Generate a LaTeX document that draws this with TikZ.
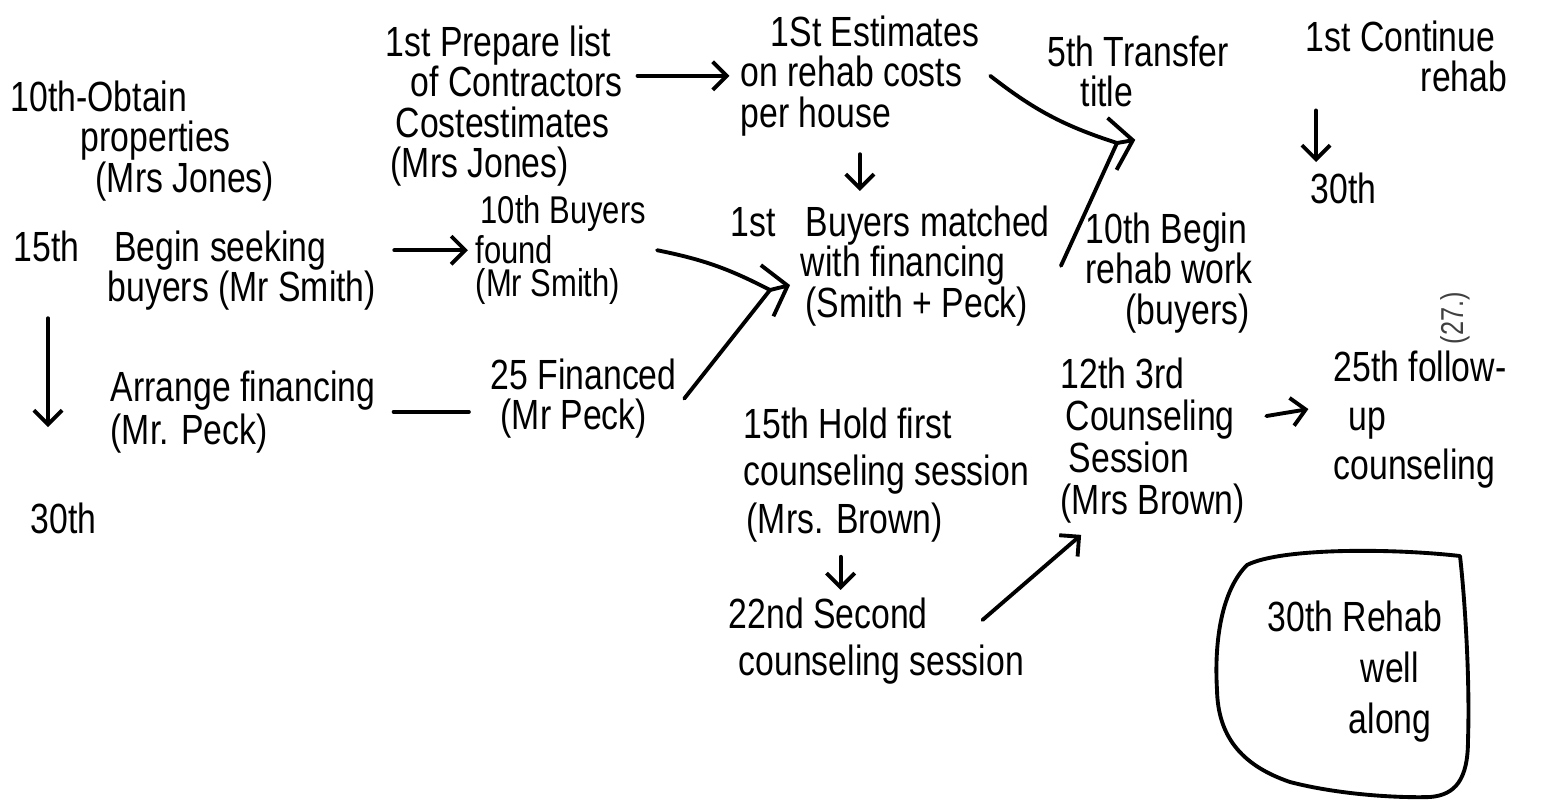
\documentclass[tikz,border=0pt]{standalone}
\usepackage{fontspec}
\setmainfont{Liberation Sans}[FakeStretch=0.8]
\usetikzlibrary{arrows.meta,calc}
\tikzset{
  lbl/.style={anchor=north west, align=left, inner sep=0pt, font=\fontsize{12}{11.5}\selectfont},
  ln/.style={line width=1.1pt, line cap=round, line join=round},
  arr/.style={ln, -{Straight Barb[length=4pt,width=8pt]}},
  mtip/.style={ln, -{Straight Barb[length=6pt,width=15pt]}},
}
\begin{document}
\begin{tikzpicture}[x=0.01cm, y=-0.01cm]
\useasboundingbox (0,0) rectangle (1557,802);
\fill[white] (0,0) rectangle (1557,802);

% texts
\node[lbl] (obtain) at (10,80) {10th-Obtain\\\hspace*{0.7cm}properties\\\hspace*{0.85cm}(Mrs Jones)};
\node[lbl] (prep) at (385,25) {1st Prepare list\\\hspace*{0.25cm}of Contractors\\\hspace*{0.1cm}Costestimates\\\hspace*{0.05cm}(Mrs Jones)};
\node[lbl] (est) at (740,15) {\hspace*{0.3cm}1St Estimates\\on rehab costs\\per house};
\node[lbl] (transfer) at (1047,35) {5th Transfer\\\hspace*{0.33cm}title};
\node[lbl] (cont) at (1305,20) {1st Continue\\\hspace*{1.15cm}rehab};
\node[lbl] (c30) at (1310,172) {30th};
\node[lbl] (seek) at (13,230) {15th\hspace{0.35cm}Begin seeking\\\hspace*{0.94cm}buyers (Mr Smith)};
\node[lbl, font=\fontsize{11}{9.5}\selectfont] (found) at (475,195) {\hspace*{0.05cm}10th Buyers\\found\\(Mr Smith)};
\node[lbl] (f30) at (30,502) {30th};
\node[lbl, font=\fontsize{12}{10.5}\selectfont] (arr) at (110,370) {Arrange financing\\(Mr. Peck)};
\node[lbl] (fin) at (490,358) {25 Financed\\\hspace*{0.1cm}(Mr Peck)};
\node[lbl] (match) at (730,205) {1st\hspace{0.3cm}Buyers matched\\\hspace*{0.7cm}with financing\\\hspace*{0.75cm}(Smith + Peck)};
\node[lbl] (rehab) at (1085,212) {10th Begin\\rehab work\\\hspace*{0.4cm}(buyers)};
\node[lbl, font=\fontsize{12}{13.5}\selectfont] (hold) at (743,407) {15th Hold first\\counseling session\\\hspace*{0.03cm}(Mrs. Brown)};
\node[lbl, font=\fontsize{12}{13.5}\selectfont] (second) at (728,597) {22nd Second\\\hspace*{0.1cm}counseling session};
\node[lbl, font=\fontsize{12}{12}\selectfont] (third) at (1060,357) {12th 3rd\\\hspace*{0.05cm}Counseling\\\hspace*{0.08cm}Session\\(Mrs Brown)};
\node[lbl, font=\fontsize{12}{14}\selectfont] (follow) at (1333,350) {25th follow-\\\hspace*{0.15cm}up\\counseling};
\node[lbl, font=\fontsize{12}{14.5}\selectfont] (along) at (1267,600) {30th Rehab\\\hspace*{0.93cm}well\\\hspace*{0.81cm}along};
\node[rotate=90, inner sep=0pt, font=\fontsize{9}{9}\selectfont, text=black!75] (pg) at (1455,318) {(27.)};

% blob around the last note
\draw[ln] (1460,556) .. controls (1390,548) and (1280,548) .. (1247,565)
  .. controls (1222,590) and (1214,640) .. (1217,690)
  .. controls (1218,735) and (1240,765) .. (1290,782)
  .. controls (1340,795) and (1400,798) .. (1430,797)
  .. controls (1455,795) and (1468,780) .. (1468,740)
  .. controls (1470,680) and (1465,600) .. cycle;

% merge points and free ends
\coordinate (tm) at (1117,143);
\coordinate (mm) at (770,290);
\coordinate (d1) at (48,427);
\coordinate (d2) at (1316,162);

% connectors
\draw[arr] ([xshift=4pt]prep.east |- est.west) -- ([xshift=-3pt]est.west);
\draw[arr] ($(est.south)+(0,-5pt)$) -- ($(est.south |- match.north)+(0,4pt)$);
\draw[ln] ([xshift=3pt]est.east) to[bend right=10] (tm);
\draw[ln] ([xshift=3pt]match.east) -- (tm);
\draw[mtip] (tm) -- ++(5.2pt,0.9pt);

\draw[arr] ([xshift=5pt]seek.east |- found.west) -- ([xshift=-2pt]found.west);
\draw[ln] ([xshift=3pt]found.east) to[bend left=8] (mm);
\draw[ln] ([xshift=2pt]fin.east) -- (mm);
\draw[mtip] (mm) -- ++(5.7pt,1.4pt);

\draw[ln] ([xshift=5pt]arr.east) -- ($(arr.east -| fin.west)+(-6pt,0)$);
\draw[arr] ($(seek.south west -| d1)+(0,-2pt)$) -- (d1);
\draw[arr] ($(cont.south -| d2)+(0,-5pt)$) -- (d2);

\draw[arr] ($(hold.south)+(-13pt,-4pt)$) -- ($(hold.south |- second.north)+(-13pt,2pt)$);
\draw[arr] ($(second.east)+(-12pt,6pt)$) -- ($(third.south west)+(6pt,-3pt)$);
\draw[arr] ($(third.east)+(6pt,7pt)$) -- ($(follow.west)+(-7pt,3pt)$);
\end{tikzpicture}
\end{document}
